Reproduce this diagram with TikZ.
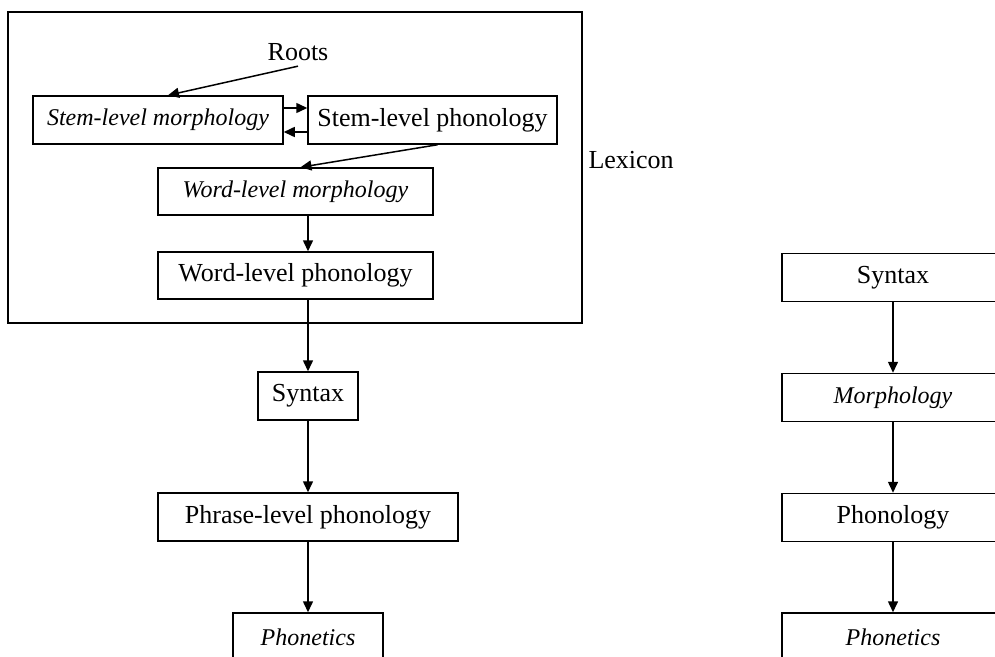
\documentclass[tikz,border=0pt]{standalone}
\usepackage{fontspec}
\setmainfont{Liberation Serif}
\usepackage{tikz}
\usetikzlibrary{positioning, calc, arrows.meta}

\begin{document}
\begin{tikzpicture}[x=1pt, y=-1pt,
    box/.style={draw, line width=1.5pt, inner sep=0pt, minimum height=48pt},
    itbox/.style={box, font=\fontsize{24}{28}\selectfont\itshape},
    flow/.style={-{Triangle[length=11pt, width=10pt]}, line width=1.5pt},
    font=\fontsize{26}{30}\selectfont]
    \clip (0,0) rectangle (995,656);

    % Lexicon
    \draw[line width=1.5pt] (8,12) rectangle (582,323);
    \node[anchor=west] (lexicon) at (585,160) {Lexicon};

    \node (roots) at (298,52) {Roots};
    \node[itbox, minimum width=250pt] (stemmorph) at (158,120) {Stem-level morphology};
    \node[box, minimum width=249pt] (stemphon) at (432.5,120) {Stem-level phonology};
    \node[itbox, minimum width=275pt, minimum height=47pt] (wordmorph) at (295.5,191.5) {Word-level morphology};
    \node[box, minimum width=275pt, minimum height=47pt] (wordphon) at (295.5,275.5) {Word-level phonology};

    % Left column below the lexicon
    \node[box, minimum width=100pt] (syntax) at (308,396) {Syntax};
    \node[box, minimum width=300pt] (phrasephon) at (308,517) {Phrase-level phonology};
    \node[itbox, minimum width=150pt] (phonetics) at (308,637) {Phonetics};

    % Right column
    \node[box, minimum width=222pt] (syntaxB) at (893,277.5) {Syntax};
    \node[itbox, minimum width=222pt] (morphB) at (893,397.5) {Morphology};
    \node[box, minimum width=222pt] (phonB) at (893,517.5) {Phonology};
    \node[itbox, minimum width=222pt] (phoneticsB) at (893,637) {Phonetics};

    % Arrows
    \draw[flow] ([yshift=-2pt]roots.south) -- ([xshift=10pt]stemmorph.north);
    \draw[flow] ([yshift=12pt]stemmorph.east) -- ([yshift=12pt]stemphon.west);
    \draw[flow] ([yshift=-12pt]stemphon.west) -- ([yshift=-12pt]stemmorph.east);
    \draw[flow] ([xshift=5pt]stemphon.south) -- ([xshift=5pt]wordmorph.north);
    \draw[flow] (wordmorph.south -| syntax.north) -- (wordphon.north -| syntax.north);
    \draw[flow] (wordphon.south -| syntax.north) -- (syntax.north);
    \draw[flow] (syntax) -- (phrasephon);
    \draw[flow] (phrasephon) -- (phonetics);

    \draw[flow] (syntaxB) -- (morphB);
    \draw[flow] (morphB) -- (phonB);
    \draw[flow] (phonB) -- (phoneticsB);
\end{tikzpicture}
\end{document}
